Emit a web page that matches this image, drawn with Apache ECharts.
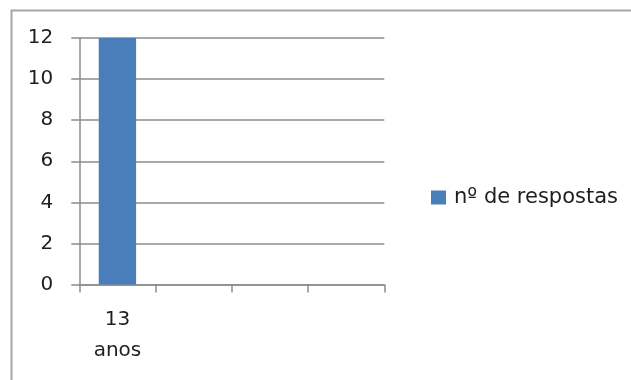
<!DOCTYPE html>
<html><head><meta charset="utf-8">
<script src="https://cdn.jsdelivr.net/npm/echarts@6/dist/echarts.min.js"></script>
<style>html,body{margin:0;padding:0;background:#fff}#c{width:631px;height:380px}</style>
</head><body><div id="c"></div>
<script>
const categories = ['13\nanos', '', '', ''];
const seriesName = 'nº de respostas';
const values = [12, null, null, null];
const yMin = 0, yMax = 12, yStep = 2;

const FONT = 'DejaVu Sans';
const chart = echarts.init(document.getElementById('c'), null, {renderer: 'canvas'});
chart.setOption({
  animation: false,
  backgroundColor: '#fff',
  graphic: [{
    type: 'rect', left: 9, top: 8, silent: true,
    shape: {width: 700, height: 500},
    style: {fill: 'none', stroke: '#a6a6a6', lineWidth: 2}
  }],
  grid: {left: 79.3, right: 246.7, top: 38, bottom: 95.5, containLabel: false},
  legend: {
    data: [seriesName], left: 426, top: 182, itemWidth: 15, itemHeight: 14, itemGap: 0,
    icon: 'rect',
    itemStyle: {borderWidth: 0},
    textStyle: {fontFamily: FONT, fontSize: 21, color: '#1e1e1e', padding: [0, 0, 0, 3]}
  },
  xAxis: {
    type: 'category', data: categories, boundaryGap: true,
    axisLine: {show: true, lineStyle: {color: '#8c8c8c', width: 1.5}},
    axisTick: {show: true, length: 8, alignWithLabel: false, lineStyle: {color: '#8c8c8c', width: 1.5}},
    axisLabel: {interval: 0, fontFamily: FONT, fontSize: 20, color: '#1e1e1e', margin: 20, lineHeight: 31},
    splitLine: {show: false}
  },
  yAxis: {
    type: 'value', min: yMin, max: yMax, interval: yStep,
    axisLine: {show: true, lineStyle: {color: '#8c8c8c', width: 1.5}},
    axisTick: {show: true, length: 8, inside: false, lineStyle: {color: '#8c8c8c', width: 1.5}},
    axisLabel: {fontFamily: FONT, fontSize: 20, color: '#1e1e1e', margin: 26},
    splitLine: {show: true, lineStyle: {color: '#8c8c8c', width: 1.5}}
  },
  series: [{
    name: seriesName, type: 'bar', data: values, barWidth: '49%',
    itemStyle: {color: '#4a7ebb'}
  }]
});
</script></body></html>
